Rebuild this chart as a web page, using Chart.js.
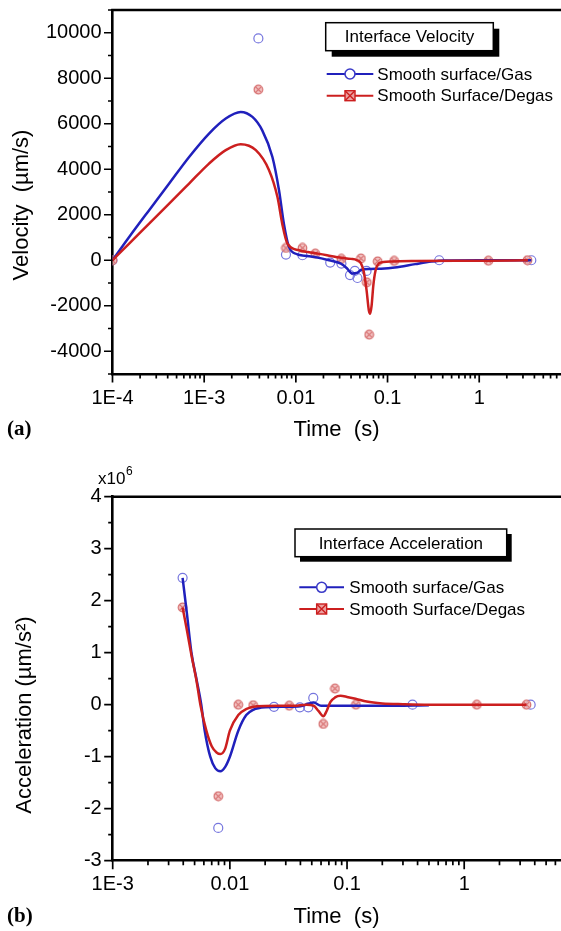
<!DOCTYPE html>
<html>
<head>
<meta charset="utf-8">
<title>Interface velocity and acceleration</title>
<script src="https://cdn.jsdelivr.net/npm/chart.js@4.4.1/dist/chart.umd.min.js"></script>
<style>
  html, body { margin: 0; padding: 0; background: #fff; overflow: hidden; }
  #wrap { position: relative; width: 561px; height: 931px; }
  canvas { position: absolute; left: 0; }
  #velocity { top: 0; }
  #accel { top: 460px; }
</style>
</head>
<body>
<div id="wrap">
  <canvas id="velocity" width="561" height="460"></canvas>
  <canvas id="accel" width="561" height="471"></canvas>
</div>
<script>
// ---- (a) interface velocity, um/s ----
const velGasT = [1e-4, 0.0039, 0.0078, 0.0118, 0.0237, 0.0314, 0.039, 0.044, 0.047, 0.059, 0.366, 3.7];
const velGasV = [0, 9750, 250, 220, -100, -145, -650, -470, -780, -470, 0, 0];
const velDegasT = [1e-4, 0.0039, 0.0078, 0.0118, 0.0163, 0.0314, 0.0512, 0.0594, 0.063, 0.078, 0.118, 1.26, 3.36];
const velDegasV = [0, 7500, 540, 540, 290, 60, 75, -970, -3270, -50, -30, -20, 0];

// smoothed fit lines
const velGasFitT = [1e-4, 1.52e-4, 2.51e-4, 4.15e-4, 6.85e-4, 1.13e-3, 1.72e-3, 2.5e-3, 3.36e-3, 4.3e-3, 5.55e-3, 6.55e-3, 7.4e-3, 8.4e-3, 0.0104, 0.0125, 0.016, 0.023, 0.031, 0.036, 0.041, 0.046, 0.052, 0.065, 0.085, 0.12, 0.2, 0.3, 0.42, 1, 3.7];
const velGasFitV = [0, 1020, 2200, 3370, 4540, 5570, 6230, 6520, 6300, 5710, 4540, 3080, 1610, 590, 260, 200, 140, 0, -150, -350, -580, -560, -420, -380, -370, -320, -170, -60, -10, 0, 0];
const velDegasFitT = [1e-4, 1.52e-4, 2.51e-4, 4.15e-4, 6.85e-4, 1.13e-3, 1.72e-3, 2.5e-3, 3.66e-3, 5.1e-3, 6.3e-3, 7.1e-3, 8.1e-3, 0.0108, 0.0135, 0.018, 0.024, 0.03, 0.04, 0.046, 0.051, 0.055, 0.059, 0.0625, 0.0645, 0.067, 0.07, 0.074, 0.08, 0.09, 0.11, 0.2, 1.26, 3.4];
const velDegasFitV = [0, 730, 1610, 2490, 3370, 4250, 4840, 5100, 4840, 3960, 2780, 1610, 730, 440, 360, 280, 190, 120, 60, 10, -120, -500, -1300, -2200, -2350, -2000, -1100, -450, -150, -80, -50, -30, -20, 0];

// ---- (b) interface acceleration, x10^6 um/s^2 ----
const accGasT = [0.00395, 0.00796, 0.0238, 0.0396, 0.0467, 0.0515, 0.362, 3.69];
const accGasV = [2.44, -2.37, -0.04, -0.05, -0.05, 0.13, 0, 0];
const accDegasT = [0.00395, 0.00796, 0.0118, 0.0158, 0.0321, 0.0627, 0.0789, 0.119, 1.28, 3.4];
const accDegasV = [1.87, -1.76, 0, -0.01, -0.02, -0.37, 0.31, 0, 0, 0];

const accGasFitT = [0.00395, 0.0043, 0.0047, 0.0052, 0.0057, 0.0061, 0.0068, 0.0075, 0.0083, 0.0091, 0.01, 0.0118, 0.0138, 0.0158, 0.02, 0.03, 0.04, 0.047, 0.052, 0.06, 0.1, 0.2, 0.5];
const accGasFitV = [2.44, 1.75, 1.0, 0.48, 0.0, -0.5, -1.0, -1.22, -1.28, -1.2, -1.0, -0.5, -0.2, -0.1, -0.05, -0.04, -0.03, 0.02, 0.04, -0.02, -0.02, -0.02, -0.01];
const accDegasFitT = [0.00395, 0.0043, 0.0047, 0.0052, 0.0056, 0.0063, 0.007, 0.0077, 0.0083, 0.0091, 0.01, 0.0118, 0.0139, 0.017, 0.025, 0.035, 0.045, 0.052, 0.057, 0.0627, 0.067, 0.072, 0.079, 0.088, 0.1, 0.12, 0.147, 0.2, 0.3, 0.5, 1.28, 3.4];
const accDegasFitV = [1.87, 1.43, 0.95, 0.45, 0.0, -0.5, -0.8, -0.92, -0.95, -0.85, -0.5, -0.2, -0.08, -0.03, -0.02, -0.02, 0.0, -0.02, -0.12, -0.22, -0.12, 0.05, 0.14, 0.17, 0.15, 0.11, 0.06, 0.025, 0.01, 0, 0, 0];

const velYLabels = [-4000, -2000, 0, 2000, 4000, 6000, 8000, 10000];
const accYLabels = [-3, -2, -1, 0, 1, 2, 3, 4];
const GAS = 'Smooth surface/Gas';
const DEGAS = 'Smooth Surface/Degas';

const SANS = '"Liberation Sans", Arial, sans-serif';
const BLUE = '#2020bc';
const RED = '#cc1f1f';
const BLUE_MARK = 'rgb(118,118,222)';
const RED_MARK = 'rgb(214,112,112)';

const pts = (xs, ys) => xs.map((x, i) => ({ x, y: ys[i] }));

// circle with a cross, used for the Degas samples
function crossMarker() {
  const c = document.createElement('canvas');
  c.width = c.height = 11;
  const g = c.getContext('2d');
  g.fillStyle = 'rgba(240,180,180,0.8)';
  g.strokeStyle = RED_MARK;
  g.lineWidth = 1.2;
  g.beginPath(); g.arc(5.5, 5.5, 4.3, 0, Math.PI * 2); g.fill(); g.stroke();
  g.beginPath();
  g.moveTo(2.8, 2.8); g.lineTo(8.2, 8.2);
  g.moveTo(8.2, 2.8); g.lineTo(2.8, 8.2);
  g.stroke();
  return c;
}
const crossImg = crossMarker();

function decadeLabel(v) {
  const e = Math.round(Math.log10(v));
  return e <= -3 ? '1E' + e : String(Math.pow(10, e));
}

// top edge of the frame plus major/minor tick marks pointing outwards
const frameTicks = {
  id: 'frameTicks',
  afterDraw(chart, args, opts) {
    const { ctx, chartArea: a } = chart;
    const x = chart.scales.x, y = chart.scales.y;
    ctx.save();
    ctx.strokeStyle = '#000';
    ctx.lineWidth = 2.6;
    ctx.beginPath();
    ctx.moveTo(a.left - 1.3, a.top);
    ctx.lineTo(a.right, a.top);
    ctx.stroke();

    ctx.lineWidth = 1.7;
    ctx.beginPath();
    const e0 = Math.floor(Math.log10(x.min)), e1 = Math.ceil(Math.log10(x.max));
    for (let e = e0; e <= e1; e++) {
      for (let m = 1; m <= 9; m++) {
        const v = m * Math.pow(10, e);
        if (v < x.min * 0.999 || v > x.max) continue;
        const px = x.getPixelForValue(v);
        ctx.moveTo(px, a.bottom);
        ctx.lineTo(px, a.bottom + (m === 1 ? 8.5 : 4.5));
      }
    }
    for (let v = y.min; v <= y.max + 1e-9; v += opts.minor) {
      const r = v / opts.major;
      const major = Math.abs(r - Math.round(r)) < 1e-6;
      const py = y.getPixelForValue(v);
      ctx.moveTo(a.left, py);
      ctx.lineTo(a.left - (major ? 8.5 : 4.5), py);
    }
    ctx.stroke();
    ctx.restore();
  }
};

// axis titles, panel letter and other free text
const panelText = {
  id: 'panelText',
  afterDraw(chart, args, opts) {
    const ctx = chart.ctx;
    ctx.save();
    ctx.fillStyle = '#000';
    ctx.textBaseline = 'middle';
    for (const t of opts.items) {
      ctx.save();
      ctx.font = t.font;
      ctx.textAlign = t.align || 'center';
      ctx.translate(t.x, t.y);
      if (t.rotate) ctx.rotate(t.rotate);
      ctx.fillText(t.text, 0, 0);
      if (t.sup) {
        // exponent placed right after the base text
        const w = ctx.measureText(t.text).width;
        ctx.font = t.supFont;
        ctx.fillText(t.sup, w + 0.5, -7);
      }
      ctx.restore();
    }
    ctx.restore();
  }
};

// boxed title with drop shadow and the two series keys
const boxLegend = {
  id: 'boxLegend',
  afterDraw(chart, args, o) {
    const ctx = chart.ctx;
    const [x1, y1, x2, y2] = o.box;
    ctx.save();
    ctx.fillStyle = '#000';
    ctx.fillRect(x1 + o.shadow, y1 + o.shadow, x2 - x1, y2 - y1);
    ctx.fillStyle = '#fff';
    ctx.fillRect(x1, y1, x2 - x1, y2 - y1);
    ctx.strokeStyle = '#000';
    ctx.lineWidth = 1.5;
    ctx.strokeRect(x1, y1, x2 - x1, y2 - y1);
    ctx.fillStyle = '#000';
    ctx.font = '17px ' + SANS;
    ctx.textAlign = 'center';
    ctx.textBaseline = 'middle';
    ctx.fillText(o.title, (x1 + x2) / 2, (y1 + y2) / 2 + 1);

    ctx.textAlign = 'left';
    o.rows.forEach(row => {
      const y = row.y;
      const mid = (o.lineX[0] + o.lineX[1]) / 2;
      ctx.strokeStyle = row.color;
      ctx.lineWidth = 2;
      ctx.beginPath();
      ctx.moveTo(o.lineX[0], y);
      ctx.lineTo(o.lineX[1], y);
      ctx.stroke();
      if (row.marker === 'circle') {
        ctx.fillStyle = '#fff';
        ctx.strokeStyle = '#3a3ac8';
        ctx.lineWidth = 1.6;
        ctx.beginPath();
        ctx.arc(mid, y, 5, 0, Math.PI * 2);
        ctx.fill();
        ctx.stroke();
      } else {
        ctx.fillStyle = 'rgba(236,160,160,1)';
        ctx.strokeStyle = RED;
        ctx.lineWidth = 1.4;
        ctx.fillRect(mid - 5, y - 5, 10, 10);
        ctx.strokeRect(mid - 5, y - 5, 10, 10);
        ctx.beginPath();
        ctx.moveTo(mid - 5, y - 5); ctx.lineTo(mid + 5, y + 5);
        ctx.moveTo(mid + 5, y - 5); ctx.lineTo(mid - 5, y + 5);
        ctx.stroke();
      }
      ctx.fillStyle = '#000';
      ctx.font = '17px ' + SANS;
      ctx.fillText(row.label, o.textX, y + 1);
    });
    ctx.restore();
  }
};

function datasets(gasT, gasV, degT, degV, gasFitT, gasFitV, degFitT, degFitV) {
  const fit = (data, color) => ({
    data, showLine: true, borderColor: color, borderWidth: 2.5,
    pointRadius: 0, cubicInterpolationMode: 'monotone', fill: false
  });
  return [
    Object.assign({ label: DEGAS + ' fit' }, fit(pts(degFitT, degFitV), RED)),
    Object.assign({ label: GAS + ' fit' }, fit(pts(gasFitT, gasFitV), BLUE)),
    { label: DEGAS, data: pts(degT, degV), showLine: false, pointStyle: crossImg, pointRadius: 5 },
    { label: GAS, data: pts(gasT, gasV), showLine: false, pointStyle: 'circle', pointRadius: 4.5,
      borderColor: BLUE_MARK, backgroundColor: 'rgba(255,255,255,0)', pointBorderWidth: 1.2 }
  ];
}

function panel(id, p) {
  return new Chart(document.getElementById(id), {
    type: 'line',
    data: { datasets: p.datasets },
    options: {
      responsive: false,
      animation: false,
      devicePixelRatio: 1,
      layout: { autoPadding: false, padding: { top: p.top, left: 0, right: 0, bottom: 0 } },
      plugins: {
        legend: { display: false },
        tooltip: { enabled: false },
        frameTicks: { major: p.yMajor, minor: p.yMajor / 2 },
        panelText: { items: p.texts },
        boxLegend: p.legend
      },
      scales: {
        x: {
          type: 'logarithmic', min: p.xMin, max: p.xMax, position: 'bottom',
          afterBuildTicks: s => {
            const out = [];
            for (let e = Math.round(Math.log10(p.xMin)); Math.pow(10, e) <= p.xMax; e++) out.push({ value: Math.pow(10, e) });
            s.ticks = out;
          },
          afterFit: s => { s.height = p.xAxisHeight; s.paddingLeft = 0; s.paddingRight = 0; },
          grid: { drawOnChartArea: false, drawTicks: false },
          border: { display: true, color: '#000', width: 2.6 },
          ticks: { autoSkip: false, maxRotation: 0, padding: 12, color: '#000',
                   font: { family: SANS, size: 20 }, callback: v => decadeLabel(v) }
        },
        y: {
          type: 'linear', min: p.yMin, max: p.yMax,
          afterBuildTicks: s => { s.ticks = p.yLabels.map(v => ({ value: v })); },
          afterFit: s => { s.width = p.yAxisWidth; s.paddingTop = 0; s.paddingBottom = 0; },
          grid: { drawOnChartArea: false, drawTicks: false },
          border: { display: true, color: '#000', width: 2.6 },
          ticks: { padding: 11, color: '#000', font: { family: SANS, size: 20 }, callback: v => String(v) }
        }
      }
    },
    plugins: [frameTicks, panelText, boxLegend]
  });
}

panel('velocity', {
  datasets: datasets(velGasT, velGasV, velDegasT, velDegasV, velGasFitT, velGasFitV, velDegasFitT, velDegasFitV),
  xMin: 1e-4, xMax: 7.8, yMin: -5000, yMax: 11000, yMajor: 2000, yLabels: velYLabels,
  top: 10, xAxisHeight: 86, yAxisWidth: 112.5,
  texts: [
    { text: 'Velocity  (\u00b5m/s)', x: 22, y: 205, font: '22px ' + SANS, rotate: -Math.PI / 2 },
    { text: 'Time  (s)', x: 336.5, y: 430, font: '22px ' + SANS },
    { text: '(a)', x: 7, y: 430, font: 'bold 21px "Liberation Serif", "Times New Roman", serif', align: 'left' }
  ],
  legend: {
    title: 'Interface Velocity', box: [325.7, 22.7, 493.3, 50.7], shadow: 6,
    lineX: [326.7, 373.3], textX: 377.3,
    rows: [
      { label: GAS, color: BLUE, marker: 'circle', y: 74 },
      { label: DEGAS, color: RED, marker: 'cross', y: 95.7 }
    ]
  }
});

panel('accel', {
  datasets: datasets(accGasT, accGasV, accDegasT, accDegasV, accGasFitT, accGasFitV, accDegasFitT, accDegasFitV),
  xMin: 1e-3, xMax: 6.7, yMin: -3, yMax: 4, yMajor: 1, yLabels: accYLabels,
  top: 36.7, xAxisHeight: 70.3, yAxisWidth: 112.7,
  texts: [
    { text: 'Acceleration (\u00b5m/s\u00b2)', x: 25, y: 255, font: '22px ' + SANS, rotate: -Math.PI / 2 },
    { text: 'Time  (s)', x: 336.5, y: 457, font: '22px ' + SANS },
    { text: '(b)', x: 7, y: 457, font: 'bold 21px "Liberation Serif", "Times New Roman", serif', align: 'left' },
    { text: 'x10', x: 98, y: 19, font: '17px ' + SANS, align: 'left', sup: '6', supFont: '12px ' + SANS }
  ],
  legend: {
    title: 'Interface Acceleration', box: [295, 69, 506.7, 96.7], shadow: 5,
    lineX: [299.3, 344], textX: 349.3,
    rows: [
      { label: GAS, color: BLUE, marker: 'circle', y: 127.3 },
      { label: DEGAS, color: RED, marker: 'cross', y: 149 }
    ]
  }
});
</script>
</body>
</html>
